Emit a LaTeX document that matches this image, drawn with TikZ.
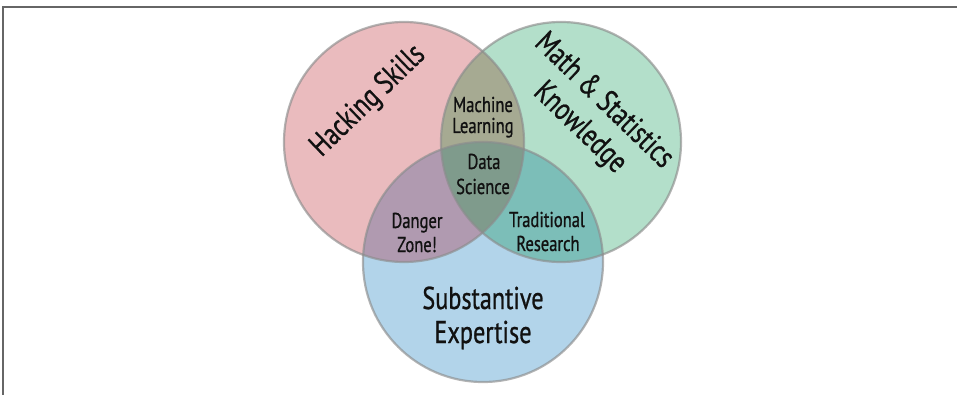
\documentclass[tikz,border=0pt]{standalone}
\usepackage{fontspec}
\setmainfont{PT Sans}[FakeStretch=0.77,FakeBold=0.8]
\begin{document}
\begin{tikzpicture}[x=1pt,y=-1pt]
\definecolor{pinkF}{HTML}{EABBBE}
\definecolor{greenF}{HTML}{B3DFCA}
\definecolor{blueF}{HTML}{B2D4EA}
\definecolor{pgF}{HTML}{A6AA92}
\definecolor{pbF}{HTML}{B09AB0}
\definecolor{gbF}{HTML}{7CBEB8}
\definecolor{pgbF}{HTML}{7F9B8C}
\definecolor{frameC}{HTML}{666666}
\definecolor{txtC}{HTML}{111111}
\tikzset{
  outl/.style={draw=black!45, line width=2.2pt, opacity=0.65},
  small/.style={anchor=base, inner sep=0pt, text=txtC, font=\fontsize{21.5}{24}\selectfont},
  big/.style={anchor=base, inner sep=0pt, text=txtC, font=\fontsize{31.5}{36}\selectfont},
  frameline/.style={draw=frameC, line width=1.6pt}
}
\useasboundingbox (0,0) rectangle (957,395);
\coordinate (corner) at (3,7);
\coordinate (topright) at (957,7);
\coordinate (botleft) at (3,395);
\draw[frameline] (botleft) -- (corner) -- (topright);

\coordinate (H) at (404,142);
\coordinate (M) at (561,142);
\coordinate (S) at (483,262);

\fill[pinkF] (H) circle[radius=120pt];
\fill[greenF] (M) circle[radius=120pt];
\fill[blueF] (S) circle[radius=120pt];
\begin{scope}
  \clip (H) circle[radius=120pt];
  \fill[pgF] (M) circle[radius=120pt];
  \fill[pbF] (S) circle[radius=120pt];
\end{scope}
\begin{scope}
  \clip (M) circle[radius=120pt];
  \fill[gbF] (S) circle[radius=120pt];
  \clip (H) circle[radius=120pt];
  \fill[pgbF] (S) circle[radius=120pt];
\end{scope}
\draw[outl] (H) circle[radius=120pt];
\draw[outl] (M) circle[radius=120pt];
\draw[outl] (S) circle[radius=120pt];

\node[small] (ml1) at (483,112) {Machine};
\node[small] (ml2) at (483,133) {Learning};
\node[small] (ds1) at (484,169) {Data};
\node[small] (ds2) at (483,194) {Science};
\node[small] (dz1) at (417,228) {Danger};
\node[small] (dz2) at (417,252) {Zone!};
\node[small] (tr1) at (547,227) {Traditional};
\node[small] (tr2) at (548,251) {Research};
\node[big] (se1) at (483,309) {Substantive};
\node[big] (se2) at (483,343) {Expertise};
\node[big, rotate=44] (hs) at (374,107) {Hacking Skills};
\node[big, rotate=-44] (ms1) at (598,107) {Math \& Statistics};
\node[big, rotate=-44] (ms2) at (574,134) {Knowledge};
\end{tikzpicture}
\end{document}
